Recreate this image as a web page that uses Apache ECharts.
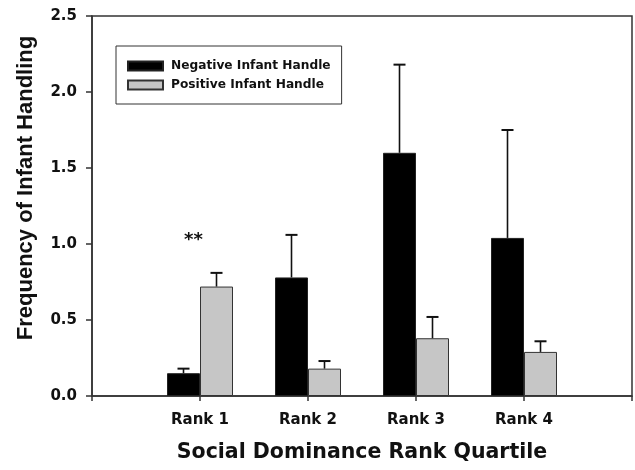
<!DOCTYPE html>
<html>
<head>
<meta charset="utf-8">
<script src="https://cdn.jsdelivr.net/npm/echarts@6/dist/echarts.min.js"></script>
<style>
html,body{margin:0;padding:0;background:#fff;}
#chart{width:635px;height:470px;}
</style>
</head>
<body>
<div id="chart"></div>
<script>
var categories = ['Rank 1', 'Rank 2', 'Rank 3', 'Rank 4'];
var negativeMean = [0.15, 0.78, 1.60, 1.04];
var negativeErr = [0.03, 0.28, 0.58, 0.71];
var positiveMean = [0.72, 0.18, 0.38, 0.29];
var positiveErr = [0.09, 0.05, 0.14, 0.07];
var yTicks = [0, 0.5, 1.0, 1.5, 2.0, 2.5];
var seriesNames = ['Negative Infant Handle', 'Positive Infant Handle'];
var annotation = '**';

var axisCats = [''].concat(categories).concat(['']);
function pad(arr) { return [null].concat(arr).concat([null]); }

var BAR_W = 33;
var FONT = '"DejaVu Sans", sans-serif';

function errData(mean, err) {
  var out = [];
  for (var i = 0; i < mean.length; i++) {
    out.push([i + 1, mean[i], mean[i] + err[i]]);
  }
  return out;
}

function makeErrSeries(mean, err, offset) {
  return {
    type: 'custom',
    z: 5,
    silent: true,
    data: errData(mean, err),
    renderItem: function (params, api) {
      var base = api.coord([api.value(0), api.value(1)]);
      var top = api.coord([api.value(0), api.value(2)]);
      var x = base[0] + offset;
      var half = 6;
      var st = { stroke: '#111', lineWidth: 1.6 };
      return {
        type: 'group',
        children: [
          { type: 'line', shape: { x1: x, y1: base[1], x2: x, y2: top[1] }, style: st },
          { type: 'line', shape: { x1: x - half, y1: top[1], x2: x + half, y2: top[1] }, style: { stroke: '#111', lineWidth: 2 } }
        ]
      };
    }
  };
}

var chart = echarts.init(document.getElementById('chart'));
var option = {
  animation: false,
  backgroundColor: '#fff',
  grid: {
    left: 92, right: 3, top: 16, bottom: 74,
    show: true, borderColor: '#333', borderWidth: 1.5, backgroundColor: 'transparent'
  },
  legend: {
    data: seriesNames,
    orient: 'vertical',
    left: 116, top: 46,
    padding: [14, 11, 13, 11],
    icon: 'rect',
    itemWidth: 35, itemHeight: 9, itemGap: 7,
    borderColor: '#333', borderWidth: 1,
    textStyle: { fontFamily: FONT, fontWeight: 'bold', fontSize: 12.2, color: '#111', padding: [0, 0, 0, 3] }
  },
  xAxis: {
    type: 'category',
    data: axisCats,
    boundaryGap: false,
    axisLine: { lineStyle: { color: '#333', width: 1.5 } },
    axisTick: { show: true, length: 5, interval: 0, lineStyle: { color: '#333', width: 1.5 } },
    axisLabel: { interval: 0, margin: 17, fontFamily: FONT, fontWeight: 'bold', fontSize: 15, color: '#111' },
    splitLine: { show: false },
    name: 'Social Dominance Rank Quartile',
    nameLocation: 'middle',
    nameGap: 46,
    nameTextStyle: { fontFamily: FONT, fontWeight: 'bold', fontSize: 20.5, color: '#111' }
  },
  yAxis: {
    type: 'value',
    min: 0, max: 2.5, interval: 0.5,
    axisLine: { show: true, lineStyle: { color: '#333', width: 1.5 } },
    axisTick: { show: true, length: 6, lineStyle: { color: '#333', width: 1.5 } },
    axisLabel: {
      margin: 15, fontFamily: FONT, fontWeight: 'bold', fontSize: 15, color: '#111',
      formatter: function (v) { return v.toFixed(1); }
    },
    splitLine: { show: false },
    name: 'Frequency of Infant Handling',
    nameLocation: 'middle',
    nameGap: 55,
    nameTextStyle: { fontFamily: '"Liberation Sans", Arial, sans-serif', fontWeight: 'bold', fontSize: 22, color: '#111', padding: [0, 0, 0, 36] }
  },
  series: [
    {
      name: seriesNames[0], type: 'bar', data: pad(negativeMean),
      barWidth: BAR_W, barGap: '0%',
      itemStyle: { color: '#000', borderColor: '#222', borderWidth: 1 }
    },
    {
      name: seriesNames[1], type: 'bar', data: pad(positiveMean),
      barWidth: BAR_W, barGap: '0%',
      itemStyle: { color: '#c6c6c6', borderColor: '#333', borderWidth: 1 }
    },
    makeErrSeries(negativeMean, negativeErr, -BAR_W / 2),
    makeErrSeries(positiveMean, positiveErr, BAR_W / 2)
  ],
  graphic: [
    {
      type: 'text', left: 184, top: 231,
      style: { text: annotation, font: 'bold 18px ' + FONT, fill: '#111' }
    }
  ]
};
chart.setOption(option);
</script>
</body>
</html>
